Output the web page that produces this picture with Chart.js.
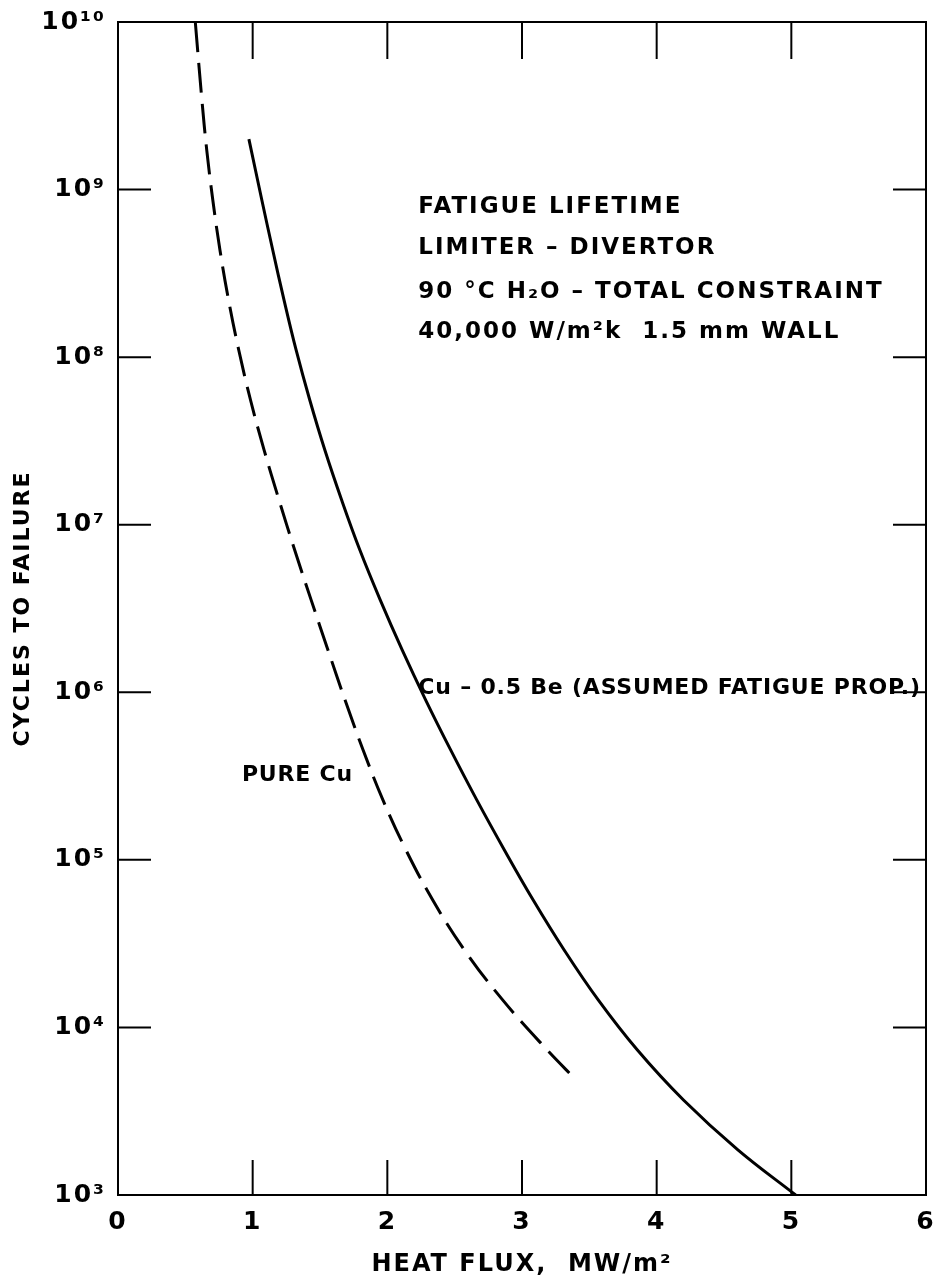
<!DOCTYPE html>
<html>
<head>
<meta charset="utf-8">
<script src="https://cdn.jsdelivr.net/npm/chart.js@4/dist/chart.umd.min.js"></script>
<style>
  html, body { margin: 0; padding: 0; background: #fff; }
  #wrap { width: 936px; height: 1285px; }
</style>
</head>
<body>
<div id="wrap"><canvas id="fatigue-chart" width="936" height="1285"></canvas></div>
<script>
// Curva Cu - 0.5 Be (linea continua)
const cuBeFlux   = [0.972, 1.068, 1.149, 1.233, 1.323, 1.424, 1.536, 1.660, 1.796, 1.947, 2.110, 2.285, 2.470, 2.664, 2.868, 3.083, 3.313, 3.566, 3.857, 4.199, 4.603, 5.032];
const cuBeCycles = [2.0e9, 8.67e8, 4.36e8, 2.19e8, 1.10e8, 5.55e7, 2.79e7, 1.41e7, 7.06e6, 3.56e6, 1.79e6, 8.99e5, 4.53e5, 2.28e5, 1.15e5, 5.76e4, 2.90e4, 1.46e4, 7.33e3, 3.69e3, 1.86e3, 1.0e3];

// Cobre puro (linea discontinua)
const pureCuFlux   = [0.574, 0.623, 0.659, 0.704, 0.757, 0.821, 0.897, 0.984, 1.085, 1.195, 1.312, 1.434, 1.559, 1.686, 1.820, 1.967, 2.137, 2.337, 2.572, 2.856, 3.187, 3.403];
const pureCuCycles = [1.0e10, 3.43e9, 1.72e9, 8.67e8, 4.36e8, 2.19e8, 1.10e8, 5.55e7, 2.79e7, 1.41e7, 7.06e6, 3.56e6, 1.79e6, 8.99e5, 4.53e5, 2.28e5, 1.15e5, 5.76e4, 2.90e4, 1.46e4, 7.33e3, 4.85e3];

// Marcas de los ejes
const xTicks = [0, 1, 2, 3, 4, 5, 6];
const yTicks = [1e3, 1e4, 1e5, 1e6, 1e7, 1e8, 1e9, 1e10];
const yTickLabels = ['10³', '10⁴', '10⁵', '10⁶', '10⁷', '10⁸', '10⁹', '10¹⁰'];

// Textos dentro del grafico
const noteLines  = ['FATIGUE LIFETIME', 'LIMITER – DIVERTOR', '90 °C H₂O – TOTAL CONSTRAINT', '40,000 W/m²k  1.5 mm WALL'];
const noteFlux   = 2.23;
const noteCycles = [7.9e8, 4.5e8, 2.45e8, 1.41e8];
const curveLabels = ['Cu – 0.5 Be (ASSUMED FATIGUE PROP.)', 'PURE Cu'];
const curveLabelFlux = [2.23, 0.92];
const curveLabelCycles = [1.06e6, 3.2e5];

const FONT = '"DejaVu Sans", sans-serif';

const toPoints = (xs, ys) => xs.map((x, i) => ({ x: x, y: ys[i] }));

// Espaciado de letras para todo el texto del grafico
const spacing = {
    id: 'spacing',
    beforeDraw(chart) {
        chart.ctx.letterSpacing = '2px';
    }
};

// Marco y marcas hacia dentro en los cuatro lados
const frameTicks = {
    id: 'frameTicks',
    afterDatasetsDraw(chart) {
        const { ctx, chartArea: a, scales: { x, y } } = chart;
        ctx.save();
        ctx.strokeStyle = '#000';
        ctx.lineWidth = 2;
        ctx.strokeRect(a.left, a.top, a.right - a.left, a.bottom - a.top);
        const seg = (x1, y1, x2, y2) => {
            ctx.beginPath();
            ctx.moveTo(x1, y1);
            ctx.lineTo(x2, y2);
            ctx.stroke();
        };
        xTicks.slice(1, -1).forEach(v => {
            const px = x.getPixelForValue(v);
            seg(px, a.bottom, px, a.bottom - 35);
            seg(px, a.top, px, a.top + 37);
        });
        yTicks.slice(1, -1).forEach(v => {
            const py = y.getPixelForValue(v);
            seg(a.left, py, a.left + 33, py);
            seg(a.right, py, a.right - 33, py);
        });
        ctx.restore();
    }
};

const notes = {
    id: 'notes',
    afterDraw(chart) {
        const { ctx, scales: { x, y } } = chart;
        ctx.save();
        ctx.fillStyle = '#000';
        ctx.textAlign = 'left';
        ctx.textBaseline = 'middle';
        ctx.font = 'bold 23px ' + FONT;
        ctx.letterSpacing = '2px';
        noteLines.forEach((t, i) => {
            ctx.fillText(t, x.getPixelForValue(noteFlux), y.getPixelForValue(noteCycles[i]));
        });
        ctx.font = 'bold 22px ' + FONT;
        ctx.letterSpacing = '0.8px';
        curveLabels.forEach((t, i) => {
            ctx.fillText(t, x.getPixelForValue(curveLabelFlux[i]), y.getPixelForValue(curveLabelCycles[i]));
        });
        ctx.restore();
    }
};

const ctx = document.getElementById('fatigue-chart').getContext('2d');
new Chart(ctx, {
    type: 'line',
    data: {
        datasets: [{
            label: 'Cu - 0.5 Be',
            data: toPoints(cuBeFlux, cuBeCycles),
            borderColor: '#000',
            borderWidth: 3,
            pointRadius: 0,
            tension: 0.4,
            fill: false
        }, {
            label: 'Pure Cu',
            data: toPoints(pureCuFlux, pureCuCycles),
            borderColor: '#000',
            borderWidth: 3,
            borderDash: [30, 11],
            pointRadius: 0,
            tension: 0.4,
            fill: false
        }]
    },
    options: {
        responsive: false,
        animation: false,
        devicePixelRatio: 1,
        layout: { padding: { top: 22, right: 10, left: 0, bottom: 0 } },
        plugins: { legend: { display: false }, tooltip: { enabled: false } },
        scales: {
            x: {
                type: 'linear',
                min: 0,
                max: 6,
                afterBuildTicks: s => { s.ticks = xTicks.map(v => ({ value: v })); },
                afterFit: s => { s.height = 90; s.paddingLeft = 0; s.paddingRight = 0; },
                grid: { drawOnChartArea: false, drawTicks: false },
                border: { color: '#000', width: 2 },
                ticks: {
                    color: '#000',
                    padding: 12,
                    font: { family: FONT, size: 25, weight: 'bold' },
                    callback: v => String(v)
                },
                title: {
                    display: true,
                    text: 'HEAT FLUX,  MW/m²',
                    color: '#000',
                    padding: { top: 8, bottom: 6 },
                    font: { family: FONT, size: 24, weight: 'bold' }
                }
            },
            y: {
                type: 'logarithmic',
                min: 1e3,
                max: 1e10,
                afterBuildTicks: s => { s.ticks = yTicks.map(v => ({ value: v })); },
                afterFit: s => { s.width = 118; s.paddingTop = 0; s.paddingBottom = 0; },
                grid: { drawOnChartArea: false, drawTicks: false },
                border: { color: '#000', width: 2 },
                ticks: {
                    color: '#000',
                    padding: 12,
                    font: { family: FONT, size: 25, weight: 'bold' },
                    callback: v => yTickLabels[Math.round(Math.log10(v)) - 3]
                },
                title: {
                    display: true,
                    text: 'CYCLES TO FAILURE',
                    color: '#000',
                    padding: { top: 10, bottom: 0 },
                    font: { family: FONT, size: 22, weight: 'bold' }
                }
            }
        }
    },
    plugins: [spacing, frameTicks, notes]
});
</script>
</body>
</html>
